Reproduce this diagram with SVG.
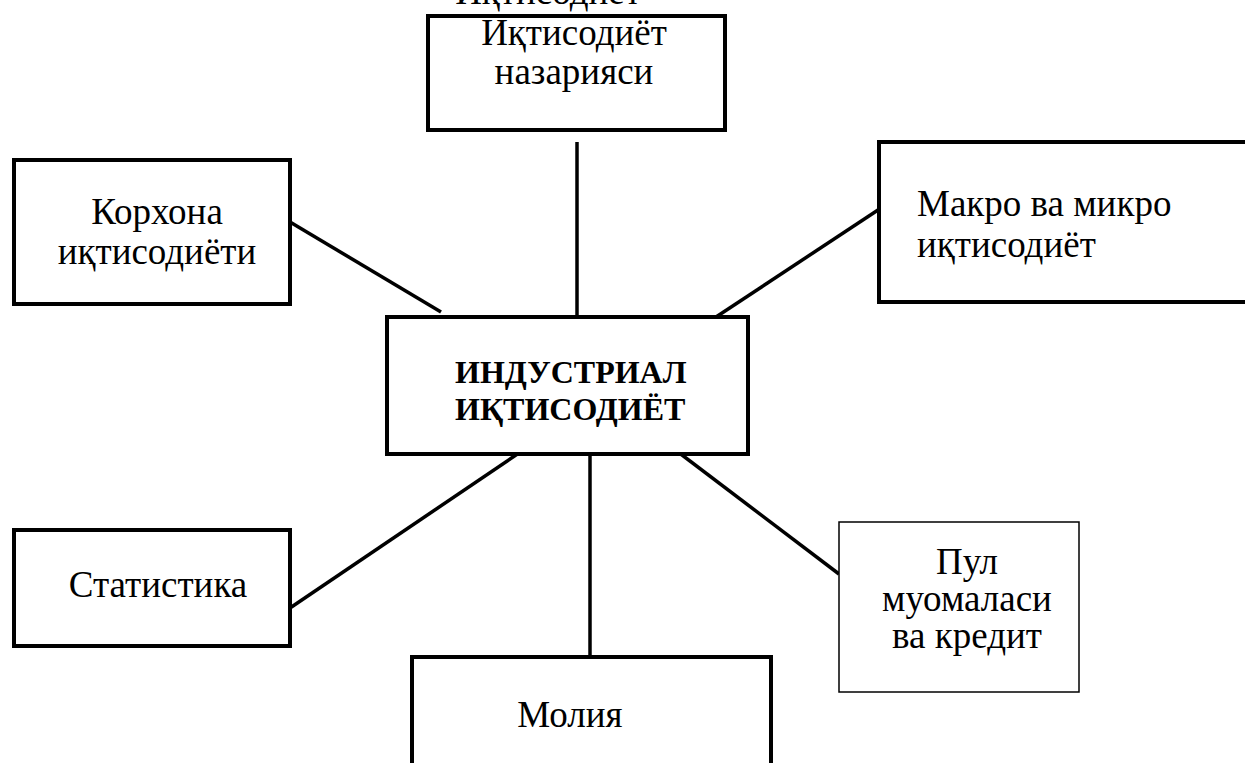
<svg xmlns="http://www.w3.org/2000/svg" width="1245" height="763" viewBox="0 0 1245 763">
<style>
.box{fill:#fff;stroke:#000;stroke-width:4}
.thin{fill:#fff;stroke:#000;stroke-width:1.5}
.t{font-family:"Liberation Serif","Times New Roman",serif;font-size:37px;fill:#000}
.c{text-anchor:middle}
.b{font-weight:bold;font-size:32px}
#connectors line{stroke:#000;stroke-width:3.5}
</style>
<rect width="1245" height="763" fill="#fff"/>
<text class="t c" x="548" y="4">Иқтисодиёт</text>
<g id="connectors">
<line x1="577" y1="142" x2="577" y2="317"/>
<line x1="290" y1="222" x2="441" y2="312"/>
<line x1="878" y1="210" x2="716" y2="317"/>
<line x1="553" y1="430" x2="290" y2="608"/>
<line x1="590" y1="433" x2="590" y2="657"/>
<line x1="653" y1="433" x2="839" y2="574"/>
</g>
<g id="n-top">
<rect class="box" x="428" y="16" width="297" height="114"/>
<text class="t c" x="574" y="45">Иқтисодиёт</text>
<text class="t c" x="574" y="84">назарияси</text>
</g>
<g id="n-korxona">
<rect class="box" x="14" y="160" width="276" height="144"/>
<text class="t c" x="157" y="224">Корхона</text>
<text class="t c" x="157" y="264">иқтисодиёти</text>
</g>
<g id="n-makro">
<rect class="box" x="879" y="142" width="380" height="160"/>
<text class="t" x="917" y="216">Макро ва микро</text>
<text class="t" x="917" y="257">иқтисодиёт</text>
</g>
<g id="n-center">
<rect class="box" x="387" y="317" width="361" height="137"/>
<text class="t b" x="455" y="383">ИНДУСТРИАЛ</text>
<text class="t b" x="455" y="420">ИҚТИСОДИЁТ</text>
</g>
<g id="n-statistika">
<rect class="box" x="14" y="530" width="276" height="116"/>
<text class="t c" x="158" y="597">Статистика</text>
</g>
<g id="n-pul">
<rect class="thin" x="839" y="522" width="240" height="170"/>
<text class="t c" x="967" y="574">Пул</text>
<text class="t c" x="967" y="611">муомаласи</text>
<text class="t c" x="967" y="648">ва кредит</text>
</g>
<g id="n-moliya">
<rect class="box" x="412" y="657" width="359" height="120"/>
<text class="t c" x="570" y="727">Молия</text>
</g>
</svg>
